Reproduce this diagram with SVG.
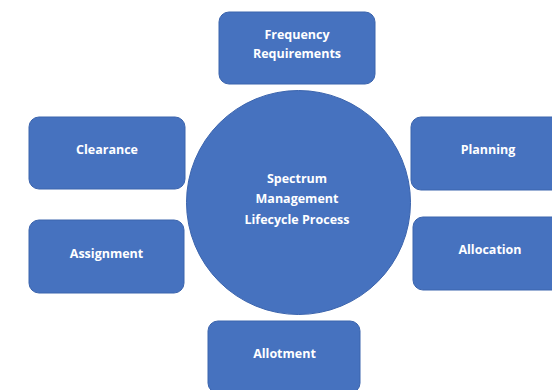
<svg xmlns="http://www.w3.org/2000/svg" width="552" height="390" viewBox="0 0 552 390">
<style>
.box{fill:#4672BF;stroke:#3B64AD;stroke-width:1}
.t{fill:#FFFFFF;font-family:"Open Sans","Liberation Sans",sans-serif;font-weight:bold;font-size:12.5px;text-anchor:middle;dominant-baseline:central}
</style>
<rect width="552" height="390" fill="#FFFFFF"/>
<g id="connectors"></g>
<g id="center">
<circle class="box" cx="298.5" cy="202.5" r="112"/>
<text class="t" x="297" y="178">Spectrum</text>
<text class="t" x="297" y="198.5">Management</text>
<text class="t" x="297" y="219">Lifecycle Process</text>
</g>
<g id="frequency">
<rect class="box" x="219" y="12" width="156" height="72" rx="10"/>
<text class="t" x="297" y="34">Frequency</text>
<text class="t" x="297" y="53">Requirements</text>
</g>
<g id="clearance">
<rect class="box" x="29" y="117" width="156" height="72" rx="10"/>
<text class="t" x="107" y="149">Clearance</text>
</g>
<g id="assignment">
<rect class="box" x="29" y="220" width="155" height="73" rx="10"/>
<text class="t" x="106.5" y="253">Assignment</text>
</g>
<g id="planning">
<rect class="box" x="411" y="117" width="156" height="73" rx="10"/>
<text class="t" x="488" y="149">Planning</text>
</g>
<g id="allocation">
<rect class="box" x="413" y="217" width="156" height="73" rx="10"/>
<text class="t" x="490" y="249">Allocation</text>
</g>
<g id="allotment">
<rect class="box" x="208" y="321" width="152" height="72" rx="10"/>
<text class="t" x="284.5" y="353">Allotment</text>
</g>
</svg>
